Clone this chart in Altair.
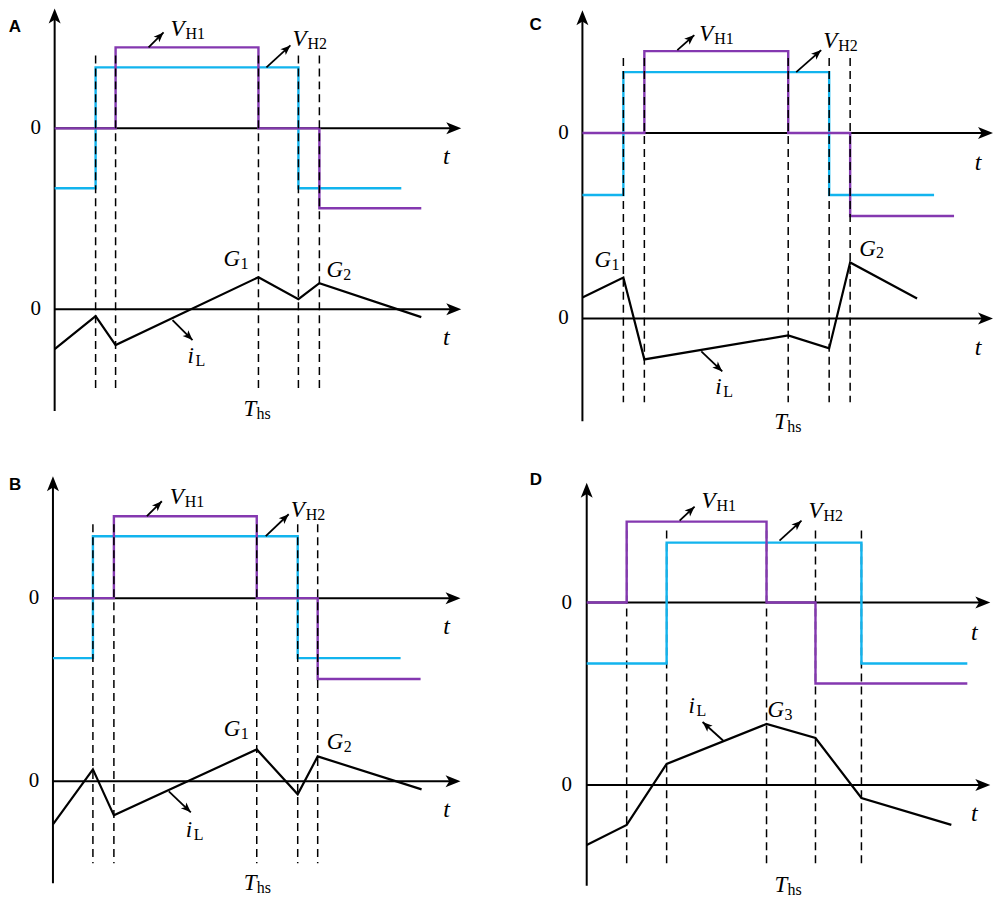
import math
import altair as alt
import pandas as pd

# ---------------- values ----------------
# t = time measured from the vertical axis; levels measured from each zero line
# (voltage levels from the upper zero line, inductor current from the lower one)

# Panel A
A_switch_t = [41, 61, 204, 244, 265]
A_vh1_t = [0, 61, 204, 265, 367]
A_vh1_v = [0, 81, 0, -80, -80]
A_vh2_t = [0, 41, 244, 347]
A_vh2_v = [-60, 61, -60, -60]
A_il_t = [0, 41, 61, 204, 244, 265, 367]
A_il_v = [-40, -7, -36, 32, 10, 26, -8]

# Panel B
B_switch_t = [40, 61, 204, 245, 265]
B_vh1_t = [0, 61, 204, 265, 368]
B_vh1_v = [0, 82, 0, -81, -81]
B_vh2_t = [0, 40, 245, 348]
B_vh2_v = [-60, 62, -60, -60]
B_il_t = [0, 40, 61, 204, 245, 265, 369]
B_il_v = [-43, 12, -34, 32, -13, 25, -8]

# Panel C
C_switch_t = [41, 62, 206, 247, 268]
C_vh1_t = [0, 62, 206, 268, 372]
C_vh1_v = [0, 82, 0, -83, -83]
C_vh2_t = [0, 41, 247, 352]
C_vh2_v = [-62, 61, -62, -62]
C_il_t = [0, 41, 62, 206, 247, 268, 335]
C_il_v = [21, 41, -41, -17, -30, 56, 20]

# Panel D
D_switch_t = [40, 80, 180, 229, 275]
D_vh1_t = [0, 40, 180, 229, 381]
D_vh1_v = [0, 81, 0, -81, -81]
D_vh2_t = [0, 80, 275, 381]
D_vh2_v = [-61, 60, -61, -61]
D_il_t = [0, 40, 80, 180, 229, 275, 365]
D_il_v = [-60, -40, 21, 61, 47, -13, -40]

# annotation labels: (main, subscript, t, level, trace)
A_notes = [("V", "H1", 116, 99, "v"), ("V", "H2", 238, 89, "v"),
           ("G", "1", 169, 50, "i"), ("G", "2", 272, 39, "i"),
           ("i", "L", 133, -47, "i"), ("T", "hs", 189, -100, "i")]
B_notes = [("V", "H1", 117, 101, "v"), ("V", "H2", 238, 88, "v"),
           ("G", "1", 171, 52, "i"), ("G", "2", 274, 39, "i"),
           ("i", "L", 133, -49, "i"), ("T", "hs", 191, -102, "i")]
C_notes = [("V", "H1", 117, 99, "v"), ("V", "H2", 241, 92, "v"),
           ("G", "1", 12, 58, "i"), ("G", "2", 277, 70, "i"),
           ("i", "L", 133, -69, "i"), ("T", "hs", 192, -104, "i")]
D_notes = [("V", "H1", 115, 102, "v"), ("V", "H2", 222, 92, "v"),
           ("G", "3", 181, 75, "i"),
           ("i", "L", 102, 79, "i"), ("T", "hs", 188, -100, "i")]

# pointer arrows: (t tail, level tail, t head, level head, trace)
A_arrows = [(94, 81, 109, 96, "v"), (212, 61, 236, 83, "v"), (118, -11, 138, -31, "i")]
B_arrows = [(94, 82, 109, 97, "v"), (213, 62, 236, 84, "v"), (116, -10, 138, -31, "i")]
C_arrows = [(95, 83, 112, 98, "v"), (214, 61, 239, 83, "v"), (119, -33, 140, -53, "i")]
D_arrows = [(93, 82, 108, 96, "v"), (193, 62, 215, 82, "v"), (137, 44, 116, 63, "i")]

# frame of each panel (axis extents, separation of the two zero lines)
A_frame = dict(t_end=407, v_top=120, i_bot=-102, dash_top=73, dash_bot=-83, gap=181,
               zero_t=-19, tl_t=392, tl_v=-29, tl_i=-29, let_t=-46, let_v=101)
B_frame = dict(t_end=408, v_top=122, i_bot=-102, dash_top=74, dash_bot=-82, gap=183.4,
               zero_t=-19, tl_t=394, tl_v=-29, tl_i=-29, let_t=-44, let_v=113)
C_frame = dict(t_end=411, v_top=123, i_bot=-103, dash_top=75, dash_bot=-84, gap=185.6,
               zero_t=-19, tl_t=396, tl_v=-30, tl_i=-30, let_t=-53, let_v=108)
D_frame = dict(t_end=404, v_top=120, i_bot=-101, dash_top=72, dash_bot=-81, gap=182.6,
               zero_t=-20, tl_t=388, tl_v=-30, tl_i=-29, let_t=-57, let_v=123)

# ---------------- styling / layout ----------------
PURPLE = "#8438B0"
CYAN = "#12B4EE"
SERIF = "Liberation Serif"
SANS = "Liberation Sans"
ARROW = "M0,0L-2,-0.8L-1.5,0L-2,0.8Z"
ADV = {"V": 15, "G": 17, "i": 8, "T": 13}

A_view = dict(w=475, h=440, xmin=-45.7, ymax=300)
C_view = dict(w=500, h=440, xmin=-87, ymax=309.3)
B_view = dict(w=475, h=440, xmin=-44, ymax=323.7)
D_view = dict(w=500, h=440, xmin=-91.3, ymax=327.3)


def panel(letter, sw_t, h1_t, h1_v, h2_t, h2_v, il_t, il_v, notes, arrows, fr, view,
          dash_over=True):
    gap = fr["gap"]
    xs = alt.Scale(domain=[view["xmin"], view["xmin"] + view["w"]], nice=False, zero=False)
    ys = alt.Scale(domain=[view["ymax"] - view["h"], view["ymax"]], nice=False, zero=False)

    def X(f):
        return alt.X(f"{f}:Q", scale=xs, axis=None)

    def Y(f):
        return alt.Y(f"{f}:Q", scale=ys, axis=None)

    def lvl(v, which):
        return v + gap if which == "v" else v

    axes_df = pd.DataFrame({
        "t": [0, 0, 0],
        "t2": [fr["t_end"] - 8, fr["t_end"] - 8, 0],
        "y": [gap, 0, fr["i_bot"]],
        "y2": [gap, 0, fr["v_top"] + gap - 8],
    })
    axes = alt.Chart(axes_df).mark_rule(color="black", strokeWidth=2).encode(
        x=X("t"), x2="t2:Q", y=Y("y"), y2="y2:Q")

    heads_df = pd.DataFrame({
        "t": [fr["t_end"], fr["t_end"], 0],
        "y": [gap, 0, fr["v_top"] + gap],
        "ang": [0, 0, 270],
    })
    heads = alt.Chart(heads_df).mark_point(
        shape=ARROW, size=225, filled=True, color="black", opacity=1, strokeWidth=0
    ).encode(x=X("t"), y=Y("y"), angle=alt.Angle("ang:Q", scale=None))

    h1_df = pd.DataFrame({"t": h1_t, "y": [v + gap for v in h1_v]})
    h2_df = pd.DataFrame({"t": h2_t, "y": [v + gap for v in h2_v]})
    l_h2 = alt.Chart(h2_df).mark_line(interpolate="step-after", color=CYAN, strokeWidth=2.4).encode(
        x=X("t"), y=Y("y"))
    l_h1 = alt.Chart(h1_df).mark_line(interpolate="step-after", color=PURPLE, strokeWidth=2.4).encode(
        x=X("t"), y=Y("y"))

    dash_df = pd.DataFrame({"t": sw_t, "y": [fr["dash_top"] + gap] * len(sw_t),
                            "y2": [fr["dash_bot"]] * len(sw_t)})
    dashes = alt.Chart(dash_df).mark_rule(color="black", strokeWidth=1.5, strokeDash=[8, 5]).encode(
        x=X("t"), y=Y("y"), y2="y2:Q")

    il_df = pd.DataFrame({"t": il_t, "y": il_v})
    il = alt.Chart(il_df).mark_line(color="black", strokeWidth=2.2).encode(x=X("t"), y=Y("y"))

    arr_rows = []
    for t0, v0, t1, v1, w in arrows:
        y0, y1 = lvl(v0, w), lvl(v1, w)
        ang = math.degrees(math.atan2(-(y1 - y0), t1 - t0)) % 360
        arr_rows.append({"t": t0, "y": y0, "t2": t1, "y2": y1, "ang": ang})
    arr_df = pd.DataFrame(arr_rows)
    arr_lines = alt.Chart(arr_df).mark_rule(color="black", strokeWidth=1.8).encode(
        x=X("t"), x2="t2:Q", y=Y("y"), y2="y2:Q")
    arr_heads = alt.Chart(arr_df).mark_point(
        shape=ARROW, size=100, filled=True, color="black", opacity=1, strokeWidth=0
    ).encode(x=X("t2"), y=Y("y2"), angle=alt.Angle("ang:Q", scale=None))

    main_df = pd.DataFrame({"t": [n[2] for n in notes],
                            "y": [lvl(n[3], n[4]) for n in notes],
                            "txt": [n[0] for n in notes]})
    sub_df = pd.DataFrame({"t": [n[2] + ADV[n[0]] for n in notes],
                           "y": [lvl(n[3], n[4]) - 5 for n in notes],
                           "txt": [n[1] for n in notes]})
    mains = alt.Chart(main_df).mark_text(
        font=SERIF, fontStyle="italic", fontSize=23, align="left", baseline="middle", color="black"
    ).encode(x=X("t"), y=Y("y"), text="txt:N")
    subs = alt.Chart(sub_df).mark_text(
        font=SERIF, fontSize=16, align="left", baseline="middle", color="black"
    ).encode(x=X("t"), y=Y("y"), text="txt:N")

    zero_df = pd.DataFrame({"t": [fr["zero_t"]] * 2, "y": [gap, 0], "txt": ["0", "0"]})
    zeros = alt.Chart(zero_df).mark_text(
        font=SERIF, fontSize=21, align="center", baseline="middle", color="black"
    ).encode(x=X("t"), y=Y("y"), text="txt:N")

    tl_df = pd.DataFrame({"t": [fr["tl_t"]] * 2, "y": [fr["tl_v"] + gap, fr["tl_i"]], "txt": ["t", "t"]})
    tls = alt.Chart(tl_df).mark_text(
        font=SERIF, fontStyle="italic", fontSize=24, align="center", baseline="middle", color="black"
    ).encode(x=X("t"), y=Y("y"), text="txt:N")

    let_df = pd.DataFrame({"t": [fr["let_t"]], "y": [fr["let_v"] + gap], "txt": [letter]})
    let = alt.Chart(let_df).mark_text(
        font=SANS, fontWeight="bold", fontSize=17, align="left", baseline="middle", color="black"
    ).encode(x=X("t"), y=Y("y"), text="txt:N")

    if dash_over:
        order = [axes, l_h2, l_h1, dashes]
    else:
        order = [axes, dashes, l_h2, l_h1]
    layers = order + [il, arr_lines, arr_heads, heads, mains, subs, zeros, tls, let]
    return alt.layer(*layers).properties(width=view["w"], height=view["h"])


pA = panel("A", A_switch_t, A_vh1_t, A_vh1_v, A_vh2_t, A_vh2_v, A_il_t, A_il_v,
           A_notes, A_arrows, A_frame, A_view)
pB = panel("B", B_switch_t, B_vh1_t, B_vh1_v, B_vh2_t, B_vh2_v, B_il_t, B_il_v,
           B_notes, B_arrows, B_frame, B_view)
pC = panel("C", C_switch_t, C_vh1_t, C_vh1_v, C_vh2_t, C_vh2_v, C_il_t, C_il_v,
           C_notes, C_arrows, C_frame, C_view)
pD = panel("D", D_switch_t, D_vh1_t, D_vh1_v, D_vh2_t, D_vh2_v, D_il_t, D_il_v,
           D_notes, D_arrows, D_frame, D_view, dash_over=False)

chart = alt.concat(pA, pC, pB, pD, columns=2, spacing={"row": 9, "column": 12},
                   bounds="flush").properties(
    padding=0,
    background="white",
).configure_view(stroke=None)

chart.save("out.html", embed_options={"renderer": "svg", "actions": False})
